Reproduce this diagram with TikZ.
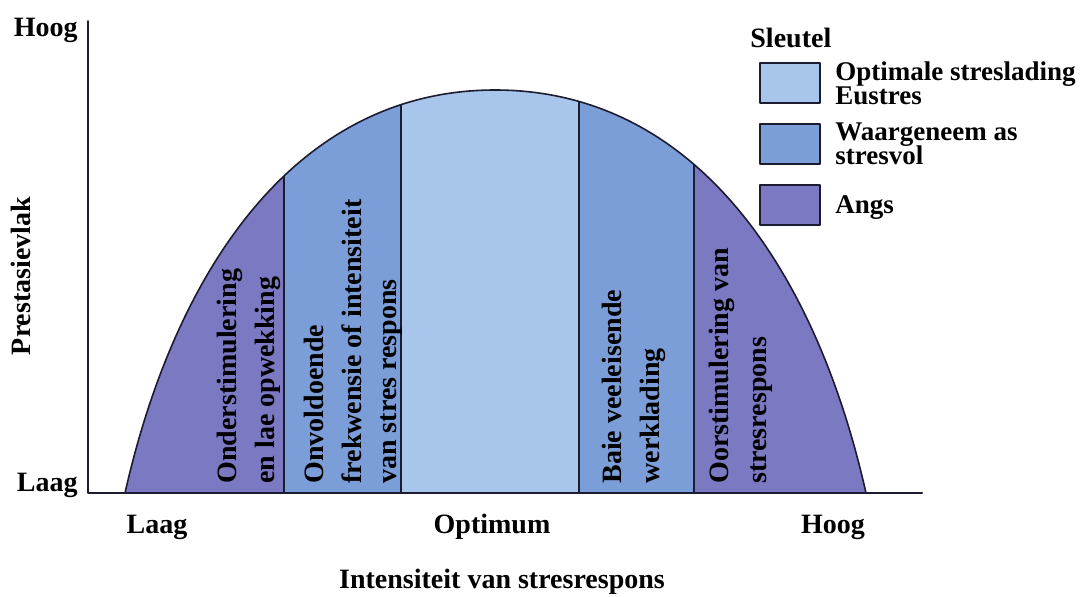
\documentclass[tikz,border=0pt]{standalone}
\usepackage{fontspec}
\setmainfont{Liberation Serif}

\definecolor{angs}{RGB}{122,121,194}
\definecolor{stresvol}{RGB}{124,158,216}
\definecolor{eustres}{RGB}{168,197,236}
\definecolor{lyn}{RGB}{28,28,48}

% outline of the performance curve
\newcommand{\bult}{(125,493) .. controls (175,271) and (295,90) .. (495,90)
  .. controls (696,90) and (816,271) .. (866,493)}

\begin{document}
\begin{tikzpicture}
 [line cap=round,line join=round,x=0.5pt,y=-0.5pt,
 lbl/.style={font=\bfseries\fontsize{14}{16}\selectfont, inner sep=0pt},
 keylbl/.style={lbl, font=\bfseries\fontsize{13.5}{16}\selectfont, anchor=base west},
 band/.style={lbl, rotate=90, anchor=base west},
 keybox/.style={draw=lyn, line width=0.8pt}]
\useasboundingbox (0,0) rectangle (1092,596);

\begin{scope}
\clip \bult -- cycle;
\fill [angs] (100,60) rectangle (284,493);
\fill [stresvol] (284,60) rectangle (401,493);
\fill [eustres] (401,60) rectangle (579,493);
\fill [stresvol] (579,60) rectangle (694,493);
\fill [angs] (694,60) rectangle (900,493);
\foreach \x in {284,401,579,694}
{
	\draw [lyn, line width=0.9pt] (\x,60) -- (\x,493);
}
\end{scope}
\draw [lyn, line width=0.8pt] \bult;

% axes
\draw [lyn, line width=1pt] (88,21) -- (88,493) -- (922,493);

\node[lbl, anchor=base east] (yhoog) at (78,36) {Hoog};
\node[lbl, anchor=base east] (ylaag) at (78,491) {Laag};
\node[lbl, rotate=90, anchor=base] (yas) at (31,276) {Prestasievlak};

\node[lbl, anchor=base] (xlaag) at (157,533) {Laag};
\node[lbl, anchor=base] (xopt) at (492,533) {Optimum};
\node[lbl, anchor=base] (xhoog) at (833,533) {Hoog};
\node[lbl, anchor=base] (xas) at (502,588) {Intensiteit van stresrespons};

% labels inside the curve
\node[band] (onder1) at (236,484) {Onderstimulering};
\node[band] (onder2) at (274,484) {en lae opwekking};
\node[band] (onvol1) at (323,484) {Onvoldoende};
\node[band] (onvol2) at (361,484) {frekwensie of intensiteit};
\node[band] (onvol3) at (396,484) {van stres respons};
\node[band] (baie1) at (621,484) {Baie veeleisende};
\node[band] (baie2) at (659,484) {werklading};
\node[band] (oor1) at (728,484) {Oorstimulering van};
\node[band] (oor2) at (766,484) {stresrespons};

% key
\node[lbl, anchor=base west] (sleutel) at (750,47) {Sleutel};
\draw [keybox, fill=eustres] (760,63) rectangle (820,103);
\draw [keybox, fill=stresvol] (760,124) rectangle (820,164);
\draw [keybox, fill=angs] (760,185) rectangle (820,225);
\node[keylbl] (key1a) at (835,80) {Optimale streslading};
\node[keylbl] (key1b) at (835,104) {Eustres};
\node[keylbl] (key2a) at (835,140) {Waargeneem as};
\node[keylbl] (key2b) at (835,164) {stresvol};
\node[keylbl] (key3) at (835,213) {Angs};

\end{tikzpicture}
\end{document}
